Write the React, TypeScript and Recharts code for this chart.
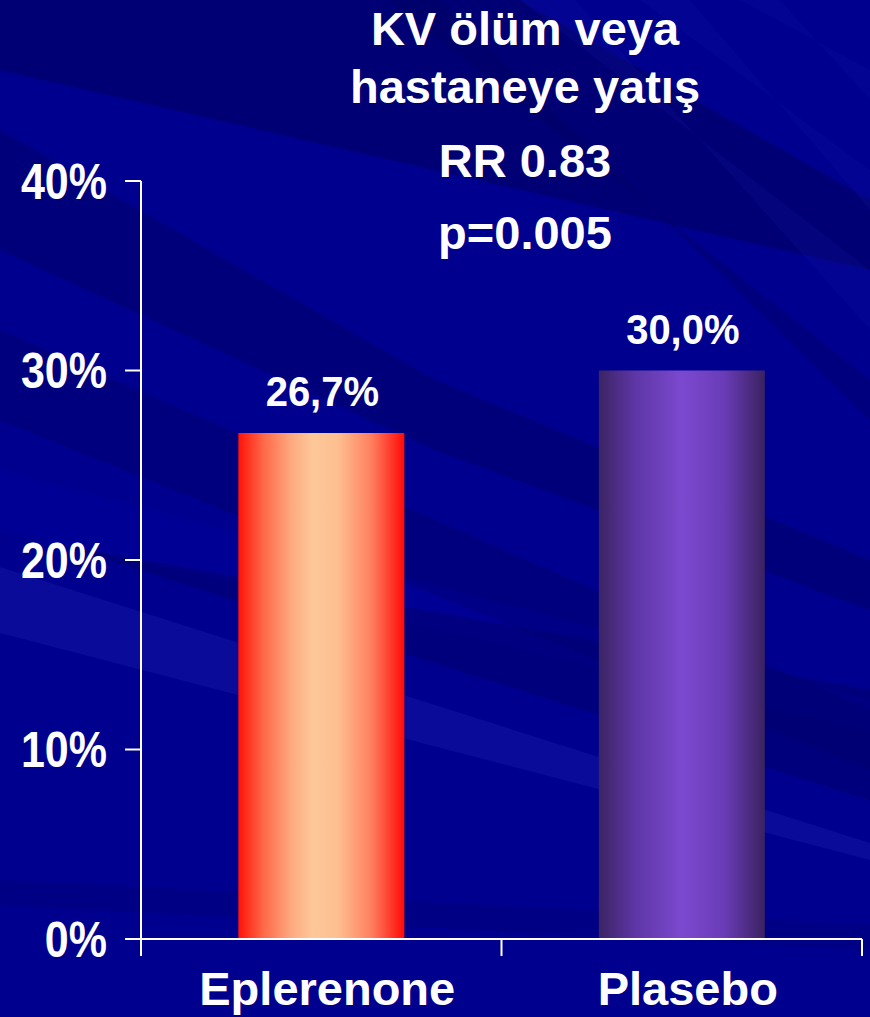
import { Bar, BarChart, Cell, LabelList, XAxis, YAxis } from "recharts";

const categories = ["Eplerenone", "Plasebo"];
const eventRates = [26.7, 30.0];
const rateLabels = ["26,7%", "30,0%"];
const yTicks = [0, 10, 20, 30, 40];
const headerLines = ["KV ölüm veya", "hastaneye yatış", "RR 0.83", "p=0.005"];

const data = categories.map((name, i) => ({
  name,
  rate: eventRates[i],
  label: rateLabels[i],
}));

const W = 870;
const H = 1017;
const PLOT_LEFT = 141;
const PLOT_RIGHT = 8;
const HALF_BAND = (W - PLOT_LEFT - PLOT_RIGHT) / categories.length / 2;
const FONT = "'Liberation Sans', Arial, sans-serif";

// slide backdrop: navy with soft sweeping streaks
const streaks = [
  { pts: "0,0 520,0 870,200 870,270 0,70", fill: "#00005a", op: 0.5 },
  { pts: "0,130 0,250 435,450 870,610 870,560 435,380", fill: "#000060", op: 0.4 },
  { pts: "0,330 0,420 870,770 870,710", fill: "#000066", op: 0.4 },
  { pts: "0,470 0,530 870,730 870,700", fill: "#0000b0", op: 0.2 },
  { pts: "60,545 870,690 870,800", fill: "#000068", op: 0.45 },
  { pts: "0,567 870,843 870,860 0,633", fill: "#2020b0", op: 0.35 },
  { pts: "0,880 870,925 870,950 0,905", fill: "#000070", op: 0.3 },
  { pts: "520,0 575,0 870,330 870,270", fill: "#1818b8", op: 0.15 },
  { pts: "640,0 690,0 870,210 870,170", fill: "#1818b8", op: 0.15 },
  { pts: "740,0 780,0 870,100 870,70", fill: "#1818b8", op: 0.15 },
  { pts: "390,0 440,0 870,420 870,380", fill: "#000060", op: 0.35 },
];

const YTick = ({ x, y, payload }: any) => (
  <g transform={`translate(${x},${y}) scale(1,1.14)`}>
    <text
      x={0}
      y={0}
      dy="0.36em"
      textAnchor="end"
      fill="#fff"
      fontFamily={FONT}
      fontWeight="bold"
      fontSize={43}
    >
      {`${payload.value}%`}
    </text>
  </g>
);

// category ticks sit on the band edges, names sit under the band centres
const XTick = ({ x, y, payload, index, visibleTicksCount }: any) => {
  const left = x - HALF_BAND;
  const right = x + HALF_BAND;
  return (
    <g>
      <line x1={left} x2={left} y1={y - 17} y2={y} stroke="#fff" strokeWidth={2} />
      {index === visibleTicksCount - 1 && (
        <line x1={right} x2={right} y1={y - 17} y2={y} stroke="#fff" strokeWidth={2} />
      )}
      <text
        x={x + 6}
        y={y + 49}
        textAnchor="middle"
        fill="#fff"
        fontFamily={FONT}
        fontWeight="bold"
        fontSize={47}
      >
        {payload.value}
      </text>
    </g>
  );
};

const ValueLabel = ({ x, y, width, index }: any) => {
  const cx = x + width / 2 + 1;
  const by = y - 27;
  return (
    <g transform={`translate(${cx},${by}) scale(1,1.06)`}>
      <text
        x={0}
        y={0}
        textAnchor="middle"
        fill="#fff"
        fontFamily={FONT}
        fontWeight="bold"
        fontSize={40}
      >
        {rateLabels[index]}
      </text>
    </g>
  );
};

const barFills = ["url(#eplGrad)", "url(#plaGrad)"];

export default function App() {
  return (
    <div style={{ position: "relative", width: W, height: H, background: "#00008e", overflow: "hidden" }}>
      <style>{`body{margin:0}`}</style>
      <svg width={W} height={H} style={{ position: "absolute", left: 0, top: 0 }}>
        {streaks.map((s, i) => (
          <polygon key={i} points={s.pts} fill={s.fill} opacity={s.op} />
        ))}
        {headerLines.map((t, i) => (
          <text
            key={t}
            x={525}
            y={[45, 103, 177, 249][i]}
            textAnchor="middle"
            fill="#fff"
            fontFamily={FONT}
            fontWeight="bold"
            fontSize={47}
          >
            {t}
          </text>
        ))}
      </svg>
      <div style={{ position: "absolute", left: 0, top: 0 }}>
        <BarChart
          width={W}
          height={H}
          data={data}
          margin={{ top: 181, right: PLOT_RIGHT, left: 0, bottom: 0 }}
          barCategoryGap="27%"
        >
          <defs>
            <linearGradient id="eplGrad" x1="0" y1="0" x2="1" y2="0">
              <stop offset="0%" stopColor="#ff1208" />
              <stop offset="15%" stopColor="#ff6848" />
              <stop offset="32%" stopColor="#fdaa80" />
              <stop offset="45%" stopColor="#fdc899" />
              <stop offset="60%" stopColor="#fdbf90" />
              <stop offset="80%" stopColor="#ff8060" />
              <stop offset="100%" stopColor="#ff0a06" />
            </linearGradient>
            <linearGradient id="plaGrad" x1="0" y1="0" x2="1" y2="0">
              <stop offset="0%" stopColor="#3b2463" />
              <stop offset="22%" stopColor="#5e36a6" />
              <stop offset="50%" stopColor="#7b49cf" />
              <stop offset="75%" stopColor="#6a3cb8" />
              <stop offset="100%" stopColor="#3a2260" />
            </linearGradient>
          </defs>
          <XAxis
            dataKey="name"
            height={H - 939}
            axisLine={{ stroke: "#fff", strokeWidth: 2 }}
            tickLine={false}
            tickSize={17}
            tickMargin={0}
            tick={<XTick />}
            interval={0}
          />
          <YAxis
            width={PLOT_LEFT}
            domain={[0, 40]}
            ticks={yTicks}
            axisLine={{ stroke: "#fff", strokeWidth: 2 }}
            tickLine={{ stroke: "#fff", strokeWidth: 2 }}
            tickSize={16}
            tickMargin={18}
            tick={<YTick />}
          />
          <Bar dataKey="rate" isAnimationActive={false}>
            {data.map((d, i) => (
              <Cell key={d.name} fill={barFills[i]} />
            ))}
            <LabelList dataKey="label" content={<ValueLabel />} />
          </Bar>
        </BarChart>
      </div>
    </div>
  );
}
